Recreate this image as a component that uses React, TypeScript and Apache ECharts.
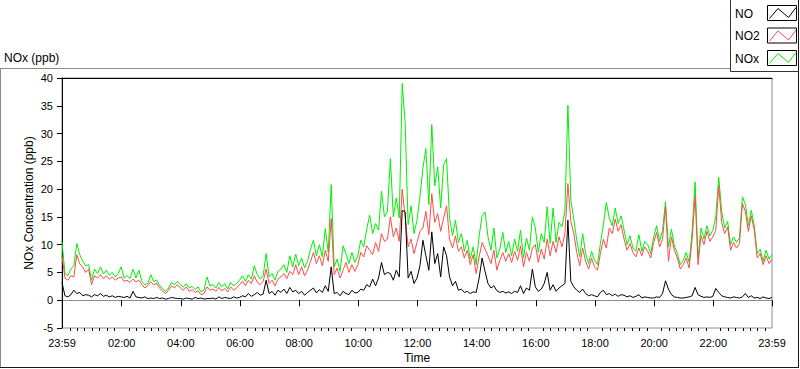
import React, { useEffect, useRef } from 'react';
import * as echarts from 'echarts';

// sampling step of the readings, in minutes from the 23:59 start
const sampleStepMin = 6;

// NO (ppb) — 10 readings per hour, 24 hours + final reading
const noValues = [
  3.2, 0.8, 0.6, 1.0, 1.8, 1.2, 1.4, 0.8, 1.0, 0.9,
  0.6, 1.0, 0.8, 1.2, 0.7, 0.9, 0.6, 0.8, 0.5, 0.7,
  0.6, 0.5, 0.7, 0.4, 1.6, 0.6, 0.5, 0.4, 0.6, 0.3,
  0.4, 0.3, 0.5, 0.3, 0.4, 0.2, 0.3, 0.5, 0.4, 0.3,
  0.3, 0.2, 0.4, 0.3, 0.2, 0.5, 0.3, 0.4, 0.2, 0.3,
  0.3, 0.4, 0.2, 0.6, 0.3, 0.5, 0.4, 0.3, 0.6, 0.4,
  0.5, 0.8, 0.6, 1.2, 0.7, 1.0, 1.4, 0.9, 1.1, 3.6,
  1.2, 1.6, 0.9, 1.8, 1.4, 2.0, 1.2, 2.3, 1.5, 1.8,
  1.2, 1.6, 0.9, 1.4, 1.8, 2.2, 1.3, 1.9, 1.4, 2.6,
  1.6, 6.0, 1.2, 1.4, 0.8, 1.6, 1.2, 1.0, 1.8, 1.3,
  1.4, 2.0, 1.8, 2.8, 2.4, 3.8, 2.6, 4.0, 6.8, 4.6,
  5.0, 4.8, 3.6, 5.4, 4.2, 16.2, 15.9, 4.0, 5.2, 3.0,
  4.0, 6.2, 10.8, 8.0, 5.4, 12.3, 6.6, 8.4, 4.2, 9.6,
  8.0, 4.2, 2.6, 3.4, 1.8, 2.0, 1.4, 1.6, 1.2, 1.5,
  1.4, 4.0, 7.6, 5.2, 3.0, 2.2, 2.6, 1.7, 1.4, 1.6,
  1.3, 1.5, 1.2, 1.6, 1.4, 2.6, 1.2, 2.2, 1.8, 5.6,
  2.4, 1.6, 2.0, 3.0, 5.0, 1.8, 2.8, 1.6, 2.2, 2.6,
  3.0, 14.4, 3.4, 2.4, 1.8, 1.4, 2.0, 1.2, 0.8, 1.0,
  0.8, 0.6, 1.4, 1.8, 1.0, 1.2, 0.8, 1.1, 0.7, 1.0,
  0.9, 0.6, 0.8, 0.5, 0.7, 1.0, 0.4, 0.6, 0.5, 0.4,
  0.4, 0.6, 0.5, 1.2, 3.5, 2.0, 1.0, 0.6, 0.5, 0.4,
  0.4, 0.5, 0.6, 0.8, 2.3, 1.0, 0.7, 0.5, 0.6, 0.5,
  0.7, 2.1, 1.4, 0.8, 0.6, 0.5, 0.4, 0.6, 0.5, 0.4,
  0.6, 1.2, 0.5, 0.8, 0.4, 0.5, 0.3, 0.6, 0.4, 0.3,
  0.5,
];

// NO2 (ppb)
const no2Values = [
  8.0, 4.0, 3.6, 4.4, 4.2, 8.2, 6.6, 6.0, 5.0, 5.6,
  2.8, 4.4, 4.0, 4.6, 3.9, 4.4, 3.8, 4.2, 3.6, 4.0,
  4.2, 3.4, 3.6, 3.2, 3.8, 3.3, 3.6, 2.8, 2.2, 2.6,
  3.3, 2.8, 3.0, 2.2, 1.6, 1.2, 1.8, 2.6, 2.2, 2.8,
  2.2, 1.8, 2.4, 1.6, 1.9, 1.4, 1.7, 1.0, 1.2, 2.4,
  1.8, 2.0, 1.6, 2.3, 1.7, 2.1, 1.5, 2.4, 1.8, 2.2,
  2.8, 3.4, 2.6, 3.6, 3.0, 4.4, 3.2, 2.8, 3.4, 5.6,
  3.0, 3.6, 2.6, 3.8, 4.2, 4.8, 3.9, 5.2, 4.6, 6.4,
  4.6, 6.0, 4.4, 5.4, 7.0, 8.6, 6.6, 8.0, 6.2, 9.0,
  7.0, 14.7, 4.6, 5.8, 4.0, 5.4, 6.8, 5.0, 6.4, 5.2,
  6.4, 8.6, 7.8, 9.8, 9.0, 8.2, 10.4, 8.8, 12.0, 10.6,
  11.0, 15.0, 11.4, 13.0, 10.6, 20.0, 15.0, 9.6, 11.0, 8.4,
  10.4, 12.4, 13.0, 16.0, 11.8, 19.2, 14.0, 15.6, 12.4, 14.8,
  17.0, 11.0, 9.4, 11.6, 8.8, 9.6, 7.6, 9.0, 6.4, 8.2,
  4.8, 7.8, 10.4, 9.2, 8.0, 6.6, 9.0, 5.4, 7.2, 8.6,
  7.0, 8.4, 6.8, 8.8, 7.2, 9.8, 6.0, 8.6, 7.0, 9.4,
  10.0, 6.8, 9.2, 7.4, 11.0, 8.0, 10.6, 8.6, 11.4, 9.6,
  12.0, 21.0, 14.2, 12.0, 8.6, 6.2, 9.4, 7.0, 5.6, 7.6,
  6.0, 5.4, 8.4, 11.0, 9.4, 13.0, 12.0, 14.6, 12.4, 13.6,
  11.0, 9.0, 10.2, 8.6, 7.8, 9.4, 8.0, 9.6, 8.8, 7.6,
  10.4, 12.2, 9.6, 11.0, 16.8, 7.0, 11.4, 9.0, 7.6, 5.6,
  6.4, 7.6, 5.8, 11.0, 18.8, 6.4, 11.6, 10.0, 12.4, 10.6,
  11.4, 12.6, 20.6, 14.0, 12.0, 13.2, 9.0, 10.4, 9.4, 10.2,
  17.4, 16.0, 12.4, 15.2, 12.6, 7.6, 8.4, 6.4, 8.0, 6.6,
  7.4,
];

// NOx (ppb)
const noxValues = [
  10.5, 4.8, 4.4, 5.6, 6.2, 10.2, 8.2, 7.0, 6.2, 6.4,
  3.6, 5.6, 4.8, 6.0, 4.7, 5.4, 4.5, 5.0, 4.2, 4.8,
  6.0, 4.0, 4.4, 3.9, 5.6, 4.0, 5.4, 3.4, 2.8, 3.0,
  4.6, 3.4, 3.6, 2.6, 2.1, 1.6, 2.2, 3.2, 2.8, 3.4,
  2.8, 2.4, 3.0, 2.2, 2.5, 1.9, 2.4, 1.5, 1.8, 4.2,
  2.6, 2.8, 2.2, 3.2, 2.4, 3.0, 2.0, 3.2, 2.6, 3.0,
  3.6, 4.4, 3.4, 4.6, 3.8, 6.2, 4.6, 3.8, 4.4, 8.4,
  4.2, 4.8, 3.6, 5.2, 5.6, 6.4, 5.0, 8.0, 6.0, 8.3,
  6.2, 7.6, 5.8, 7.0, 9.2, 10.8, 8.0, 10.0, 7.8, 12.9,
  8.6, 20.8, 6.0, 7.4, 5.2, 9.8, 8.4, 6.6, 8.6, 6.8,
  8.0, 10.8, 9.6, 12.8, 15.3, 12.0, 13.8, 12.6, 19.6, 15.0,
  16.0, 25.5, 15.0, 18.4, 14.8, 39.0, 31.8, 13.6, 17.0, 12.0,
  14.4, 18.6, 23.8, 27.3, 17.2, 31.6, 20.6, 24.0, 16.6, 24.4,
  25.5, 14.8, 11.6, 14.4, 10.4, 12.0, 8.8, 10.8, 7.4, 9.6,
  6.4, 11.6, 15.2, 15.9, 11.4, 9.0, 13.0, 7.6, 9.2, 12.2,
  8.6, 10.6, 8.0, 11.0, 8.8, 12.6, 7.6, 11.2, 9.0, 15.0,
  13.0, 8.6, 12.0, 10.4, 16.8, 10.2, 16.6, 10.4, 14.0, 13.2,
  16.0, 35.1, 18.0, 14.6, 10.8, 7.8, 12.0, 8.4, 6.6, 8.8,
  7.2, 6.4, 10.2, 13.6, 17.6, 14.8, 13.4, 16.6, 13.8, 15.2,
  12.6, 10.0, 11.6, 9.4, 8.8, 11.8, 8.8, 10.6, 10.0, 8.4,
  11.4, 13.4, 10.6, 12.6, 17.7, 9.6, 12.8, 9.8, 8.4, 6.4,
  7.2, 8.6, 6.8, 12.4, 21.3, 7.6, 13.0, 11.0, 13.4, 11.6,
  12.6, 15.0, 22.1, 15.9, 13.0, 14.2, 10.0, 11.4, 10.4, 11.2,
  18.6, 17.3, 13.4, 16.2, 13.4, 8.4, 9.2, 7.0, 9.0, 7.4,
  8.2,
];

const seriesNames = ['NO', 'NO2', 'NOx'];
const seriesColors = ['#000000', '#ff4a4a', '#00f000'];

// time axis, in minutes after 23:59
const xMinMin = 0;
const xMaxMin = 1440;
const xTickValues = [0, 121, 241, 361, 481, 601, 721, 841, 961, 1081, 1201, 1321, 1440];
const xTickLabels = ['23:59', '02:00', '04:00', '06:00', '08:00', '10:00', '12:00', '14:00', '16:00', '18:00', '20:00', '22:00', '23:59'];
const xMinorStepMin = 15;

const yMin = -5;
const yMax = 40;
const yStep = 5;

const FONT = '"Liberation Sans", Arial, sans-serif';

function toPairs(values: number[]) {
  return values.map((v, i) => [i * sampleStepMin, v]);
}

export default function App() {
  const ref = useRef<HTMLDivElement>(null);

  useEffect(() => {
    if (!ref.current) return;
    const chart = echarts.init(ref.current, null, { renderer: 'svg' });

    const minorTicks: number[] = [];
    for (let v = xTickValues[0] + 1 + xMinorStepMin; v < xMaxMin; v += xMinorStepMin) {
      if (!xTickValues.includes(v)) minorTicks.push(v);
    }

    const legendY = [5, 27.5, 50];
    const legendGraphics: any[] = [];
    seriesNames.forEach((name, i) => {
      const y0 = legendY[i];
      legendGraphics.push({
        type: 'text', x: 735, y: y0 + 8.5,
        style: { text: name, font: `12px ${FONT}`, fill: '#000', verticalAlign: 'middle' },
      });
      legendGraphics.push({
        type: 'rect', shape: { x: 767.5, y: y0 + 0.5, width: 29, height: 15 },
        style: { fill: '#fff', stroke: '#000', lineWidth: 1 },
      });
      legendGraphics.push({
        type: 'polyline',
        shape: { points: [[769.5, y0 + 13.5], [778, y0 + 3.5], [788.5, y0 + 12.5], [796, y0 + 2.5]] },
        style: { stroke: seriesColors[i], lineWidth: 1, fill: 'none' },
      });
    });

    const option: any = {
      animation: false,
      backgroundColor: '#ffffff',
      grid: {
        left: 62, right: 28, top: 78, bottom: 40,
        show: true, borderColor: '#8c8c8c', borderWidth: 1, backgroundColor: 'transparent',
      },
      xAxis: [
        {
          type: 'value', min: xMinMin, max: xMaxMin, position: 'bottom',
          name: 'Time', nameLocation: 'middle', nameGap: 24, nameMoveOverlap: false,
          nameTextStyle: { fontFamily: FONT, fontSize: 12, color: '#000' },
          axisLine: { show: true, lineStyle: { color: '#8c8c8c', width: 1 } },
          axisTick: { show: true, customValues: xTickValues, length: 6, lineStyle: { color: '#000' } },
          axisLabel: {
            show: true, customValues: xTickValues, margin: 9, fontFamily: FONT, fontSize: 11, color: '#000',
            showMinLabel: true, showMaxLabel: true,
            formatter: (v: number) => {
              const idx = xTickValues.indexOf(Math.round(v));
              return idx >= 0 ? xTickLabels[idx] : '';
            },
          },
          splitLine: { show: false },
        },
        {
          type: 'value', min: xMinMin, max: xMaxMin, position: 'bottom',
          axisLine: { show: false },
          axisTick: { show: true, customValues: minorTicks, length: 3, lineStyle: { color: '#000' } },
          axisLabel: { show: false },
          splitLine: { show: false },
        },
        {
          type: 'value', min: xMinMin, max: xMaxMin, position: 'top',
          axisLine: { show: true, lineStyle: { color: '#000', width: 1 } },
          axisTick: { show: false }, axisLabel: { show: false }, splitLine: { show: false },
        },
      ],
      yAxis: [
        {
          type: 'value', min: yMin, max: yMax, interval: yStep, position: 'left',
          name: 'NOx Concentration (ppb)', nameLocation: 'middle', nameGap: 27, nameMoveOverlap: false,
          nameTextStyle: { fontFamily: FONT, fontSize: 12, color: '#000' },
          axisLine: { show: true, lineStyle: { color: '#000', width: 1 } },
          axisTick: { show: true, length: 5, lineStyle: { color: '#000' } },
          axisLabel: { margin: 9, fontFamily: FONT, fontSize: 11, color: '#000' },
          splitLine: { show: false },
        },
      ],
      series: [
        { name: 'NOx', data: toPairs(noxValues), color: seriesColors[2] },
        { name: 'NO2', data: toPairs(no2Values), color: seriesColors[1] },
        { name: 'NO', data: toPairs(noValues), color: seriesColors[0] },
      ].map((s) => ({
        ...s,
        type: 'line',
        xAxisIndex: 0,
        yAxisIndex: 0,
        showSymbol: false,
        symbol: 'none',
        lineStyle: { width: 1, color: s.color },
        itemStyle: { color: s.color },
        silent: true,
      })),
      graphic: [
        {
          type: 'text', x: 4, y: 58,
          style: { text: 'NOx (ppb)', font: `12px ${FONT}`, fill: '#000', verticalAlign: 'middle' },
        },
        { type: 'line', shape: { x1: 0, y1: 68.5, x2: 730, y2: 68.5 }, style: { stroke: '#8a8a8a', lineWidth: 1 } },
        { type: 'line', shape: { x1: 0.5, y1: 68.5, x2: 0.5, y2: 367.5 }, style: { stroke: '#8a8a8a', lineWidth: 1 } },
        { type: 'line', shape: { x1: 0, y1: 367.5, x2: 799, y2: 367.5 }, style: { stroke: '#1a1a1a', lineWidth: 1 } },
        { type: 'line', shape: { x1: 798.5, y1: 0, x2: 798.5, y2: 368 }, style: { stroke: '#1a1a1a', lineWidth: 1 } },
        { type: 'line', shape: { x1: 730.5, y1: 0, x2: 730.5, y2: 71.5 }, style: { stroke: '#333', lineWidth: 1 } },
        { type: 'line', shape: { x1: 730.5, y1: 71.5, x2: 799, y2: 71.5 }, style: { stroke: '#333', lineWidth: 1 } },
        ...legendGraphics,
      ],
    };

    chart.setOption(option);
    return () => chart.dispose();
  }, []);

  return (
    <div
      ref={ref}
      style={{ position: 'fixed', left: 0, top: 0, width: 800, height: 369, background: '#fff' }}
    />
  );
}
